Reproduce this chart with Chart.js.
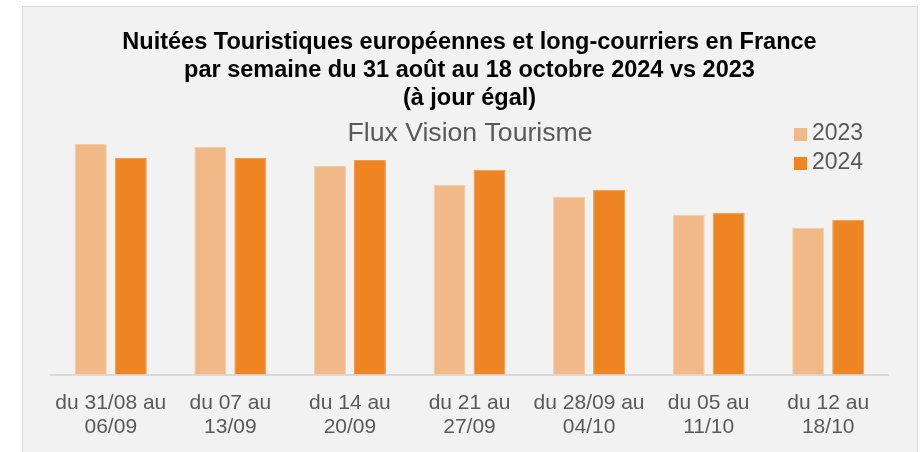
<!DOCTYPE html>
<html>
<head>
<meta charset="utf-8">
<script src="https://cdn.jsdelivr.net/npm/chart.js@4.4.1/dist/chart.umd.min.js"></script>
<style>
    body {margin: 0; background: #ffffff; overflow: hidden;}
    #box {
        position: absolute; left: 22px; top: 6px;
        width: 894px; height: 475px;
        background: #f2f2f2; border: 1px solid #d9d9d9;
    }
    canvas {display: block;}
</style>
</head>
<body>
<div id="box">
    <canvas id="nuiteesChart" width="894" height="468"></canvas>
</div>
<script>
// semaines (libellés sur deux lignes)
const weeks = [
    ["du 31/08 au", "06/09"],
    ["du 07 au", "13/09"],
    ["du 14 au", "20/09"],
    ["du 21 au", "27/09"],
    ["du 28/09 au", "04/10"],
    ["du 05 au", "11/10"],
    ["du 12 au", "18/10"],
]
// hauteurs relatives des barres (pas d'axe Y dans l'original)
const values2023 = [23.1, 22.8, 20.9, 19.0, 17.8, 16.0, 14.7]
const values2024 = [21.7, 21.7, 21.5, 20.5, 18.5, 16.2, 15.5]
const seriesLabels = ["2023", "2024"]
const seriesColors = ["#F1B987", "#EE8522"]
const titleLines = [
    "Nuitées Touristiques européennes et long-courriers en France",
    "par semaine du 31 août au 18 octobre 2024 vs 2023",
    "(à jour égal)",
]
const subtitleText = "Flux Vision Tourisme"

const FONT = "'Liberation Sans', Arial, sans-serif"

// sous-titre + légende verticale en haut à droite, comme dans Excel
const overlayPlugin = {
    id: "overlay",
    afterDraw(chart) {
        const ctx = chart.ctx
        ctx.save()
        ctx.fillStyle = "#595959"
        ctx.font = "26.6px " + FONT
        ctx.textAlign = "center"
        ctx.textBaseline = "middle"
        ctx.fillText(subtitleText, chart.width / 2, 127)

        ctx.font = "23px " + FONT
        ctx.textAlign = "left"
        chart.data.datasets.forEach((ds, i) => {
            const y = 127 + i * 29
            ctx.fillStyle = ds.backgroundColor
            ctx.fillRect(771, y - 6, 13, 13)
            ctx.fillStyle = "#595959"
            ctx.fillText(ds.label, 789, y)
        })
        ctx.restore()
    }
}

const ctx = document.getElementById("nuiteesChart").getContext("2d")
new Chart(ctx, {
    type: "bar",
    data: {
        labels: weeks,
        datasets: [
            {
                label: seriesLabels[0],
                data: values2023,
                backgroundColor: seriesColors[0],
                borderColor: "#F5CBA6",
                borderWidth: 1,
                borderSkipped: "bottom",
            },
            {
                label: seriesLabels[1],
                data: values2024,
                backgroundColor: seriesColors[1],
                borderColor: "#F29A48",
                borderWidth: 1,
                borderSkipped: "bottom",
            },
        ],
    },
    options: {
        responsive: false,
        animation: false,
        categoryPercentage: 0.669,
        barPercentage: 0.8,
        layout: {
            padding: {left: 28, right: 29, top: 0, bottom: 27},
        },
        scales: {
            x: {
                grid: {display: false},
                border: {display: true, color: "#d9d9d9", width: 2},
                ticks: {
                    color: "#595959",
                    padding: 9,
                    maxRotation: 0,
                    autoSkip: false,
                    font: {family: FONT, size: 21, lineHeight: 1.13},
                },
            },
            y: {
                display: false,
                min: 0,
                max: 26,
            },
        },
        plugins: {
            legend: {display: false},
            tooltip: {enabled: false},
            title: {
                display: true,
                text: titleLines,
                color: "#000000",
                padding: {top: 21, bottom: 2},
                font: {family: FONT, size: 23.5, weight: "bold", lineHeight: 1.205},
            },
        },
    },
    plugins: [overlayPlugin],
})
</script>
</body>
</html>
